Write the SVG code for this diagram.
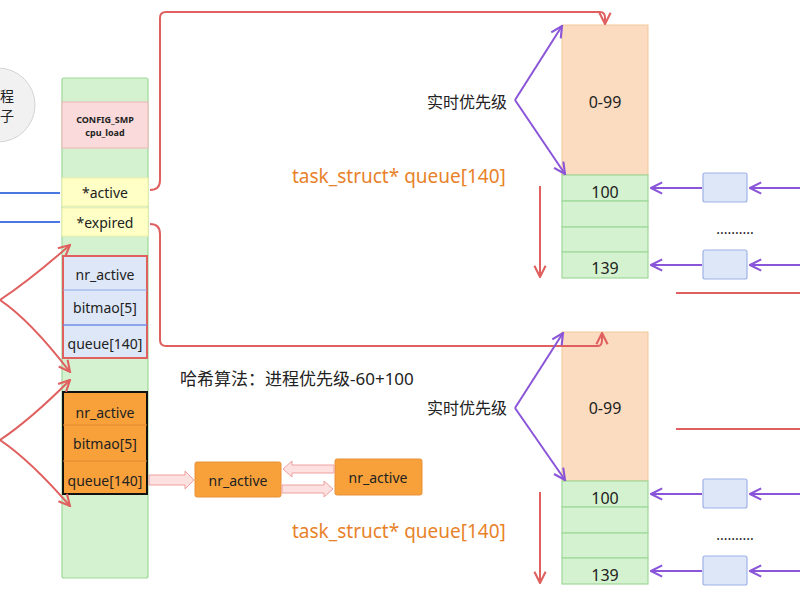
<svg xmlns="http://www.w3.org/2000/svg" width="800" height="600" viewBox="0 0 800 600">
<defs>
<style>
text{font-family:"Noto Sans","Noto Sans CJK SC",sans-serif;fill:#222}
.c{text-anchor:middle}
.red{fill:none;stroke:#e06060;stroke-width:2}
.pur{fill:none;stroke:#8a55d8;stroke-width:2}
.blu{fill:none;stroke:#4a78e0;stroke-width:2}
.g{fill:#d4f2cf;stroke:#9fd89a;stroke-width:1.2}
.o{fill:#fbdcc0;stroke:#f1c79a;stroke-width:1}
.lb{fill:#dde7f8;stroke:#9fb2e6;stroke-width:1.2}
.or{fill:#f8a13a;stroke:#e8913a;stroke-width:1}
.ot{fill:#e8822a}
</style>
<marker id="ra" viewBox="0 0 10 10" refX="9" refY="5" markerWidth="7" markerHeight="7" orient="auto-start-reverse"><path d="M1,1 L9,5 L1,9" fill="none" stroke="#e06060" stroke-width="1.5"/></marker>
<marker id="pa" viewBox="0 0 10 10" refX="9" refY="5" markerWidth="7" markerHeight="7" orient="auto-start-reverse"><path d="M1,1 L9,5 L1,9" fill="none" stroke="#8a55d8" stroke-width="1.5"/></marker>
</defs>

<g id="circle"><circle cx="-2" cy="105" r="37" fill="#f1f1f1" stroke="#d4d4d4"/>
<text x="0" y="101" font-size="14">程</text><text x="0" y="121" font-size="14">子</text></g>

<g id="runqueue">
<rect x="62" y="78" width="86" height="500" rx="2" class="g"/>
<rect x="62" y="102" width="86" height="46" fill="#fadada" stroke="#eeb6b6"/>
<text x="105" y="123" font-size="9" font-weight="bold" class="c">CONFIG_SMP</text>
<text x="105" y="136" font-size="9" font-weight="bold" class="c">cpu_load</text>
<rect x="62" y="178" width="86" height="28" fill="#ffffc6" stroke="#f0f0a8"/>
<text x="105" y="198" font-size="14" class="c">*active</text>
<rect x="62" y="208" width="86" height="28" fill="#ffffc6" stroke="#f0f0a8"/>
<text x="105" y="228" font-size="14" class="c">*expired</text>
</g>
<g id="prio-array-1">
<rect x="63" y="256" width="84" height="102" fill="#dde7f8" stroke="#e06060" stroke-width="2"/>
<line x1="63" y1="290" x2="147" y2="290" stroke="#8fa6e8"/><line x1="63" y1="325" x2="147" y2="325" stroke="#6f8ee8" stroke-width="1.5"/>
<text x="105" y="280" font-size="14" class="c">nr_active</text>
<text x="105" y="313" font-size="14" class="c">bitmao[5]</text>
<text x="105" y="349" font-size="14" class="c">queue[140]</text>
</g>
<g id="prio-array-2">
<rect x="63" y="392" width="84" height="102" fill="#f8a13a" stroke="#111" stroke-width="2"/>
<line x1="63" y1="425" x2="147" y2="425" stroke="#e08a30"/><line x1="63" y1="461" x2="147" y2="461" stroke="#e08a30"/>
<text x="105" y="418" font-size="14" class="c">nr_active</text>
<text x="105" y="449" font-size="14" class="c">bitmao[5]</text>
<text x="105" y="486" font-size="14" class="c">queue[140]</text>
</g>
<g id="task1"><rect x="195" y="462" width="86" height="35" rx="2" class="or"/><text x="238" y="486" font-size="14" class="c">nr_active</text></g>
<g id="task2"><rect x="335" y="459" width="87" height="36" rx="2" class="or"/><text x="378" y="483" font-size="14" class="c">nr_active</text></g>

<g id="labels">
<text x="292" y="183" font-size="19" class="ot">task_struct* queue[140]</text>
<text x="292" y="538" font-size="19" class="ot">task_struct* queue[140]</text>
<text x="180" y="385" font-size="17">哈希算法：进程优先级-60+100</text>
<text x="467" y="108" font-size="16" class="c">实时优先级</text>
<text x="467" y="414" font-size="16" class="c">实时优先级</text>
<text x="735" y="234" font-size="14" class="c">..........</text>
<text x="735" y="540" font-size="14" class="c">..........</text>
</g>

<g id="table-top">
<rect x="562" y="25" width="86" height="150" class="o"/><text x="605" y="108" font-size="16" class="c">0-99</text>
<rect x="562" y="175" width="86" height="26" class="g"/><text x="605" y="198" font-size="16" class="c">100</text>
<rect x="562" y="201" width="86" height="26" class="g"/>
<rect x="562" y="227" width="86" height="25" class="g"/>
<rect x="562" y="252" width="86" height="26" class="g"/><text x="605" y="274" font-size="16" class="c">139</text>
<rect x="703" y="173" width="44" height="29" rx="2" class="lb"/>
<rect x="703" y="250" width="44" height="29" rx="2" class="lb"/>
</g>
<g id="table-bottom">
<rect x="562" y="332" width="86" height="149" class="o"/><text x="605" y="414" font-size="16" class="c">0-99</text>
<rect x="562" y="481" width="86" height="26" class="g"/><text x="605" y="504" font-size="16" class="c">100</text>
<rect x="562" y="507" width="86" height="26" class="g"/>
<rect x="562" y="533" width="86" height="25" class="g"/>
<rect x="562" y="558" width="86" height="26" class="g"/><text x="605" y="581" font-size="16" class="c">139</text>
<rect x="703" y="479" width="44" height="29" rx="2" class="lb"/>
<rect x="703" y="556" width="44" height="29" rx="2" class="lb"/>
</g>

<g id="connectors">
<line x1="0" y1="193" x2="60" y2="193" class="blu"/>
<line x1="0" y1="222" x2="60" y2="222" class="blu"/>
<path d="M150,190 Q160,190 160,180 L160,18 Q160,12 166,12 L600,12 Q605,12 605,18 L605,24" class="red" marker-end="url(#ra)"/>
<path d="M150,224 Q160,224 160,234 L160,340 Q160,346 166,346 L598,346 Q602,346 602,340 L602,333" class="red" marker-end="url(#ra)"/>
<path d="M0,300 Q30,280 70,245" class="red" marker-end="url(#ra)"/>
<path d="M0,300 Q30,320 70,372" class="red" marker-end="url(#ra)"/>
<path d="M0,440 Q30,420 70,380" class="red" marker-end="url(#ra)"/>
<path d="M0,440 Q30,460 70,506" class="red" marker-end="url(#ra)"/>
<line x1="540" y1="186" x2="540" y2="277" class="red" marker-end="url(#ra)"/>
<line x1="540" y1="492" x2="540" y2="583" class="red" marker-end="url(#ra)"/>
<line x1="676" y1="293" x2="800" y2="293" class="red"/>
<line x1="676" y1="429" x2="800" y2="429" class="red"/>
<path d="M515,100 L562,26" class="pur" marker-end="url(#pa)"/>
<path d="M515,100 L565,174" class="pur" marker-end="url(#pa)"/>
<path d="M515,408 L563,333" class="pur" marker-end="url(#pa)"/>
<path d="M515,408 L565,480" class="pur" marker-end="url(#pa)"/>
<line x1="702" y1="188" x2="651" y2="188" class="pur" marker-end="url(#pa)"/>
<line x1="702" y1="265" x2="651" y2="265" class="pur" marker-end="url(#pa)"/>
<line x1="800" y1="188" x2="750" y2="188" class="pur" marker-end="url(#pa)"/>
<line x1="800" y1="265" x2="750" y2="265" class="pur" marker-end="url(#pa)"/>
<line x1="702" y1="494" x2="651" y2="494" class="pur" marker-end="url(#pa)"/>
<line x1="702" y1="571" x2="651" y2="571" class="pur" marker-end="url(#pa)"/>
<line x1="800" y1="494" x2="750" y2="494" class="pur" marker-end="url(#pa)"/>
<line x1="800" y1="571" x2="750" y2="571" class="pur" marker-end="url(#pa)"/>
<path d="M149,475 L185,475 L185,471 L194,480 L185,489 L185,485 L149,485 Z" fill="#fde0e0" stroke="#eea0a0"/>
<path d="M334,465 L292,465 L292,461 L283,469 L292,477 L292,473 L334,473 Z" fill="#fde0e0" stroke="#eea0a0"/>
<path d="M282,485 L324,485 L324,481 L333,489 L324,497 L324,493 L282,493 Z" fill="#fde0e0" stroke="#eea0a0"/>
</g>
</svg>
